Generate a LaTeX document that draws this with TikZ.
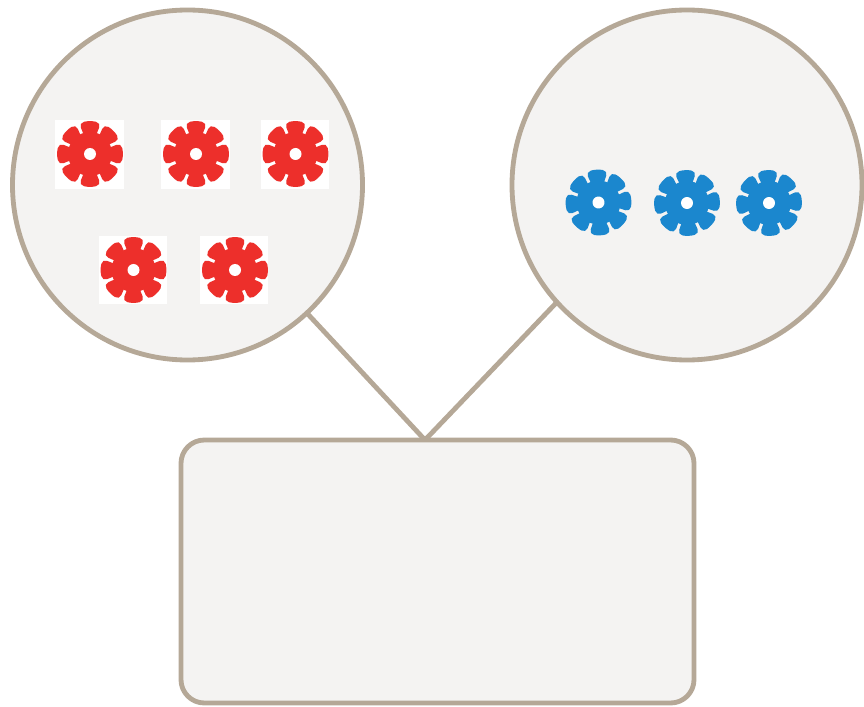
\documentclass[tikz,border=0pt]{standalone}
\usepackage{amsmath}
\definecolor{rimColor}{HTML}{B5A897}
\definecolor{paneColor}{HTML}{F4F3F2}
\definecolor{redGear}{HTML}{ED2F2B}
\definecolor{blueGear}{HTML}{1B87CE}
\tikzset{
    pane/.style={draw=rimColor, fill=paneColor, line width=0.145cm, inner sep=0pt, outer sep=0pt},
    link/.style={draw=rimColor, line width=0.145cm},
    gearPatch/.style={fill=white, inner sep=0pt, outer sep=0pt, minimum size=2.05cm},
    pics/gear/.style={code={
        \fill[#1] (0,0) circle (22);
        \foreach \a in {0,45,...,315} {
            \fill[#1, rounded corners=0.15cm] (\a-16.5:14) -- (\a-19.5:33) -- (\a:33.5) -- (\a+19.5:33) -- (\a+16.5:14) -- cycle;
        }
        \fill[white] (0,0) circle (6);
    }}
}
\begin{document}
\begin{tikzpicture}[x=0.03cm, y=-0.03cm]
    \useasboundingbox (0, 0) rectangle (864, 707);

    % Define the positions of the panes
    \coordinate (leftPos) at (187.5, 185);
    \coordinate (rightPos) at (687, 185);
    \coordinate (boxPos) at (437.5, 571.5);
    \coordinate (apex) at (425, 440);

    % Draw the links first, the panes sit on top of them
    \node[pane, circle, minimum size=10.5cm] (leftPane) at (leftPos) {};
    \node[pane, circle, minimum size=10.5cm] (rightPane) at (rightPos) {};
    \draw[link] (leftPane.313) -- (apex);
    \draw[link] (rightPane.222.5) -- (apex);
    \node[pane, rectangle, rounded corners=0.7cm, minimum width=15.39cm, minimum height=7.89cm] (bottomBox) at (boxPos) {};

    % Red gears on their white patches
    \foreach \name/\px/\py/\gx/\gy in {a/89.5/154.5/90/154, b/195.5/154.5/196/154, c/295/154.5/295.5/154, d/133/270/133.5/270, e/234/270/235/270} {
        \node[gearPatch] (patch\name) at (\px, \py) {};
        \pic at (\gx, \gy) {gear=redGear};
    }

    % Blue gears
    \pic[rotate=3] at (598.5, 202.5) {gear=blueGear};
    \pic[rotate=3] at (687, 203) {gear=blueGear};
    \pic[rotate=3] at (769, 203) {gear=blueGear};
\end{tikzpicture}
\end{document}
